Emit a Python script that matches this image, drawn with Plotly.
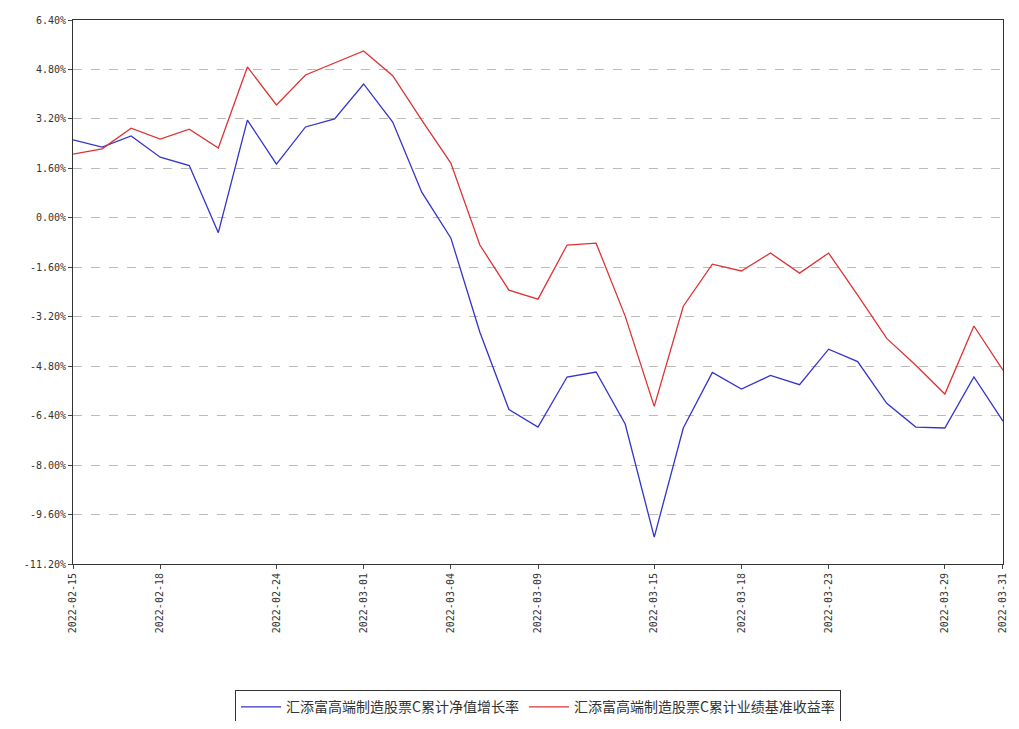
import plotly.graph_objects as go

dates = ["2022-02-15","2022-02-16","2022-02-17","2022-02-18","2022-02-21","2022-02-22","2022-02-23","2022-02-24","2022-02-25","2022-02-28",
         "2022-03-01","2022-03-02","2022-03-03","2022-03-04","2022-03-07","2022-03-08","2022-03-09","2022-03-10","2022-03-11","2022-03-14",
         "2022-03-15","2022-03-16","2022-03-17","2022-03-18","2022-03-21","2022-03-22","2022-03-23","2022-03-24","2022-03-25","2022-03-28",
         "2022-03-29","2022-03-30","2022-03-31"]
nav = [2.52,2.29,2.65,1.96,1.69,-0.48,3.16,1.74,2.94,3.2,4.33,3.1,0.83,-0.65,-3.7,-6.2,-6.77,-5.15,-4.99,-6.67,
       -10.33,-6.8,-5.0,-5.54,-5.1,-5.4,-4.25,-4.65,-6.0,-6.77,-6.8,-5.15,-6.58]
bench = [2.06,2.23,2.9,2.55,2.87,2.26,4.88,3.65,4.62,5.0,5.4,4.6,3.16,1.77,-0.88,-2.34,-2.63,-0.88,-0.82,-3.18,
         -6.1,-2.86,-1.5,-1.72,-1.14,-1.79,-1.14,-2.5,-3.9,-4.77,-5.7,-3.5,-4.93]
tick_dates = ["2022-02-15","2022-02-18","2022-02-24","2022-03-01","2022-03-04","2022-03-09","2022-03-15","2022-03-18","2022-03-23","2022-03-29","2022-03-31"]
yticks = [6.4,4.8,3.2,1.6,0.0,-1.6,-3.2,-4.8,-6.4,-8.0,-9.6,-11.2]

idx = list(range(len(dates)))
fig = go.Figure()
fig.add_trace(go.Scatter(x=idx, y=nav, mode="lines", line=dict(color="#3333cc", width=1.3),
                         name="汇添富高端制造股票C累计净值增长率"))
fig.add_trace(go.Scatter(x=idx, y=bench, mode="lines", line=dict(color="#dd3333", width=1.3),
                         name="汇添富高端制造股票C累计业绩基准收益率"))
fig.update_layout(
    width=1003, height=713, plot_bgcolor="white", paper_bgcolor="white",
    margin=dict(l=65, r=8, t=12, b=157, autoexpand=False),
    font=dict(family="Noto Sans CJK SC", size=11, color="#333"),
    showlegend=True,
    legend=dict(orientation="h", x=0.5, xanchor="center", y=-0.232, yanchor="top",
                bordercolor="#333", borderwidth=1, font=dict(size=14), itemwidth=40),
)
fig.update_xaxes(range=[-0.001, len(dates)-1+0.001], tickmode="array", automargin=False,
                 tickvals=[dates.index(d) for d in tick_dates], ticktext=tick_dates,
                 ticklabeloverflow="allow",
                 tickangle=-90, showgrid=False, showline=True, linecolor="#333", mirror=True,
                 ticks="outside", ticklen=4, tickfont=dict(family="DejaVu Sans Mono", size=10))
fig.update_yaxes(range=[-11.2, 6.4], tickmode="array", tickvals=yticks, automargin=False,
                 ticktext=[f"{v:.2f}%" for v in yticks],
                 showgrid=True, gridcolor="#bbb", griddash="dash", zeroline=False,
                 showline=True, linecolor="#333", mirror=True, ticks="outside", ticklen=4,
                 tickfont=dict(family="DejaVu Sans Mono", size=10))
fig.write_html("out.html")
